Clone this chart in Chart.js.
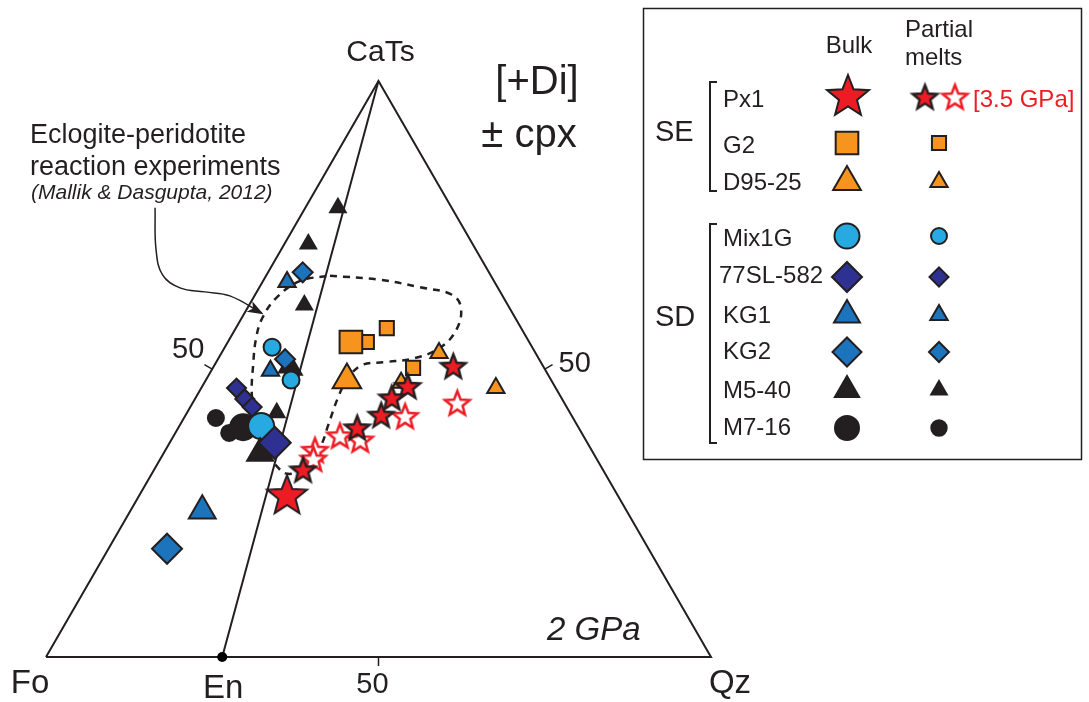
<!DOCTYPE html>
<html>
<head>
<meta charset="utf-8">
<script src="https://cdn.jsdelivr.net/npm/chart.js@4.4.1/dist/chart.umd.min.js"></script>
<style>
  html, body { margin: 0; padding: 0; background: #fff; }
  #wrap { width: 1089px; height: 702px; }
</style>
</head>
<body>
<div id="wrap"><canvas id="tern" width="1089" height="702"></canvas></div>
<script>
// compositions are [CaTs, Qz] in %, Fo is whatever is left
const vertexNames = ['Fo', 'Qz', 'CaTs']
const enName = 'En'
const enQz = 26.5
const tickValue = 50

const frame = [[0, 0], [0, 100], [100, 0], [0, 0]]
const enJoin = [[0, enQz], [100, 0]]

// field of the eclogite-peridotite reaction melts
const fieldOutline = [[66.2, 9.6], [65.5, 17.5], [64.2, 24.1], [62.9, 29.6], [60.6, 32.1], [56.8, 33.3],
  [53.7, 32.4], [51.9, 29.5], [51.2, 25.4], [50.7, 22.2], [48.4, 21.2], [45.0, 21.4], [40.3, 22.3],
  [36.5, 23.0], [33.0, 22.5], [31.8, 20.5], [33.3, 17.9], [35.9, 15.0], [40.3, 11.4], [45.5, 8.2],
  [50.7, 5.8], [55.4, 3.9], [58.9, 3.1], [62.5, 3.5], [65.3, 5.6], [66.2, 9.6]]
const arrowPath = [[78.0, -22.6], [70.7, -18.8], [66.3, -15.6], [64.1, -11.9], [63.4, -7.8], [62.7, -3.7], [59.7, 2.6]]

const px1Bulk = [[28.1, 22.2]]
const px1Melts = [[50.5, 36.0], [47.0, 30.9], [45.0, 29.5], [42.0, 29.4], [39.8, 26.9], [32.5, 22.4]]
const px1Melts35 = [[44.1, 39.8], [41.8, 33.1], [38.4, 25.0], [37.7, 28.4], [35.9, 22.5], [34.4, 23.0]]
const g2Bulk = [[54.7, 18.5]]
const g2Melts = [[54.7, 20.9], [57.1, 22.7], [50.2, 30.1]]
const d9525Bulk = [[48.1, 21.2]]
const d9525Melts = [[52.8, 32.7], [46.7, 44.3], [47.6, 29.6]]
const mix1gBulk = [[40.1, 12.3]]
const mix1gMelts = [[53.8, 7.1], [48.1, 12.8]]
const sl582Bulk = [[37.2, 15.8]]
const sl582Melts = [[46.7, 5.3], [44.8, 7.5], [43.4, 9.3]]
const kg1Bulk = [[25.4, 10.8]]
const kg1Melts = [[65.1, 3.7], [49.7, 8.9]]
const kg2Bulk = [[18.8, 8.8]]
const kg2Melts = [[66.8, 5.2], [51.7, 10.1]]
const m540Bulk = [[35.4, 14.5]]
const m540Melts = [[78.0, 4.9], [71.7, 3.6], [61.1, 8.3], [50.2, 11.1], [49.8, 12.4], [42.4, 13.5]]
const m716Bulk = [[39.9, 9.7]]
const m716Melts = [[41.5, 4.8], [38.9, 8.1]]

const groupNames = ['SE', 'SD']
const sampleNames = ['Px1', 'G2', 'D95-25', 'Mix1G', '77SL-582', 'KG1', 'KG2', 'M5-40', 'M7-16']

const ink = '#231f20'
const red = '#ed1c24'
const orange = '#f7941d'
const cyan = '#27aae1'
const navy = '#2e3192'
const blue = '#1c75bc'
const FONT = '"Liberation Sans", Arial, Helvetica, sans-serif'

const H = Math.sqrt(3) / 2
const toXY = ([c, q]) => ({ x: q + c / 2, y: c * H })

function starImage(R, fill, stroke, lw) {
  const s = Math.ceil(2 * R + lw + 4)
  const cv = document.createElement('canvas')
  cv.width = s
  cv.height = s
  const g = cv.getContext('2d')
  g.beginPath()
  for (let i = 0; i < 10; i++) {
    const r = i % 2 ? R * 0.43 : R
    const a = -Math.PI / 2 + i * Math.PI / 5
    g.lineTo(s / 2 + r * Math.cos(a), s / 2 + 1 + r * Math.sin(a))
  }
  g.closePath()
  g.fillStyle = fill
  g.fill()
  g.lineWidth = lw
  g.strokeStyle = stroke
  g.stroke()
  return cv
}

const bigStar = starImage(21, red, ink, 2)
const smallStar = starImage(13, red, ink, 2.4)
const hollowStar = starImage(13, '#fff', red, 2.5)
const legendBigStar = starImage(22, red, ink, 2)

// marker look for every sample, bulk radius first, melt radius second
const samples = [
  { name: 'Px1', shape: bigStar, meltShape: smallStar, color: red, bulk: px1Bulk, melts: px1Melts, rb: 20, rm: 12 },
  { name: 'G2', shape: 'rect', color: orange, bulk: g2Bulk, melts: g2Melts, rb: 16, rm: 10 },
  { name: 'D95-25', shape: 'triangle', color: orange, bulk: d9525Bulk, melts: d9525Melts, rb: 16.5, rm: 10 },
  { name: 'Mix1G', shape: 'circle', color: cyan, bulk: mix1gBulk, melts: mix1gMelts, rb: 13, rm: 8.5 },
  { name: '77SL-582', shape: 'rectRot', color: navy, bulk: sl582Bulk, melts: sl582Melts, rb: 16, rm: 9.5 },
  { name: 'KG1', shape: 'triangle', color: blue, bulk: kg1Bulk, melts: kg1Melts, rb: 15.5, rm: 10 },
  { name: 'KG2', shape: 'rectRot', color: blue, bulk: kg2Bulk, melts: kg2Melts, rb: 15, rm: 10 },
  { name: 'M5-40', shape: 'triangle', color: ink, bulk: m540Bulk, melts: m540Melts, rb: 15, rm: 9 },
  { name: 'M7-16', shape: 'circle', color: ink, bulk: m716Bulk, melts: m716Melts, rb: 13, rm: 8 }
]

function markerSet(data, shape, color, r, order) {
  return {
    data: data.map(toXY),
    showLine: false,
    pointStyle: shape,
    pointRadius: r,
    pointBackgroundColor: color,
    pointBorderColor: ink,
    pointBorderWidth: 2,
    order: order
  }
}

function lineSet(data, opts) {
  return Object.assign({
    data: data.map(toXY),
    showLine: true,
    pointRadius: 0,
    borderColor: ink,
    borderWidth: 2,
    fill: false,
    tension: 0,
    order: 20
  }, opts)
}

const datasets = [
  lineSet(frame, { borderJoinStyle: 'miter' }),
  lineSet(enJoin, {}),
  lineSet(fieldOutline, { borderWidth: 2.5, borderDash: [7, 6], tension: 0.4, order: 19 }),
  lineSet(arrowPath, { borderWidth: 1.5, tension: 0.4, order: 19 }),
  { data: [toXY([0, enQz])], showLine: false, pointStyle: 'circle', pointRadius: 5,
    pointBackgroundColor: '#000', pointBorderWidth: 0, order: 18 },
  markerSet(px1Melts35, hollowStar, '#fff', 13, 6)
]
samples.forEach((s, i) => {
  datasets.push(markerSet(s.melts, s.meltShape || s.shape, s.color, s.rm, 5))
})
// bulk markers sit above the melts; later in this list means further down
const bulkOrder = ['77SL-582', 'M5-40', 'Mix1G', 'M7-16', 'Px1', 'G2', 'D95-25', 'KG1', 'KG2']
samples.forEach(s => {
  datasets.push(markerSet(s.bulk, s.shape, s.color, s.rb, 1 + bulkOrder.indexOf(s.name) * 0.1))
})

function text(ctx, str, x, y, size, align, style, color) {
  ctx.font = (style || '') + ' ' + size + 'px ' + FONT
  ctx.textAlign = align || 'left'
  ctx.textBaseline = 'alphabetic'
  ctx.fillStyle = color || ink
  ctx.fillText(str, x, y)
}

const decorations = {
  id: 'decorations',
  afterDatasetsDraw(chart) {
    const ctx = chart.ctx
    const sx = chart.scales.x, sy = chart.scales.y
    const P = t => { const p = toXY(t); return [sx.getPixelForValue(p.x), sy.getPixelForValue(p.y)] }
    ctx.save()

    // arrow head at the end of the pointer line
    const a = P(arrowPath[arrowPath.length - 1]), b = P(arrowPath[arrowPath.length - 2])
    const ang = Math.atan2(a[1] - b[1], a[0] - b[0])
    ctx.translate(a[0], a[1])
    ctx.rotate(ang)
    ctx.beginPath()
    ctx.moveTo(2, 0)
    ctx.lineTo(-14, -6)
    ctx.lineTo(-10, 0)
    ctx.lineTo(-14, 6)
    ctx.closePath()
    ctx.fillStyle = ink
    ctx.fill()
    ctx.setTransform(1, 0, 0, 1, 0, 0)

    // 50 ticks on the three edges
    ctx.strokeStyle = ink
    ctx.lineWidth = 1.5
    const ticks = [
      { at: [tickValue, 0], d: [-0.87, -0.5], lab: [-24, -11] },
      { at: [0, tickValue], d: [0, 1], lab: [-6, 36] },
      { at: [tickValue, 100 - tickValue], d: [0.87, -0.5], lab: [30, 3] }
    ]
    ticks.forEach(t => {
      const p = P(t.at)
      ctx.beginPath()
      ctx.moveTo(p[0], p[1])
      ctx.lineTo(p[0] + t.d[0] * 9, p[1] + t.d[1] * 9)
      ctx.stroke()
      text(ctx, String(tickValue), p[0] + t.lab[0], p[1] + t.lab[1], 29, 'center')
    })

    // vertex names
    const fo = P([0, 0]), qz = P([0, 100]), ca = P([100, 0]), en = P([0, enQz])
    text(ctx, vertexNames[0], fo[0] - 16, fo[1] + 36, 33, 'center')
    text(ctx, vertexNames[1], qz[0] + 19, qz[1] + 36, 33, 'center')
    text(ctx, vertexNames[2], ca[0] + 2, ca[1] - 20, 30, 'center')
    text(ctx, enName, en[0] + 1, en[1] + 41, 33, 'center')

    text(ctx, '[+Di]', 537, 94, 40, 'center')
    text(ctx, '\u00b1 cpx', 529, 147, 40, 'center')
    text(ctx, '2 GPa', 547, 640, 33, 'left', 'italic')

    text(ctx, 'Eclogite-peridotite', 30, 143, 27)
    text(ctx, 'reaction experiments', 30, 175, 27)
    text(ctx, '(Mallik & Dasgupta, 2012)', 31, 199, 21, 'left', 'italic')

    drawLegend(ctx)
    ctx.restore()
  }
}

function legendMarker(ctx, shape, color, r, x, y) {
  ctx.fillStyle = color
  ctx.strokeStyle = ink
  ctx.lineWidth = 2
  Chart.helpers.drawPoint(ctx, { pointStyle: shape, radius: r, rotation: 0, borderWidth: 2 }, x, y)
}

function drawLegend(ctx) {
  ctx.strokeStyle = ink
  ctx.lineWidth = 1.5
  ctx.strokeRect(643.5, 8.5, 438, 451)

  text(ctx, 'Bulk', 849, 53, 24, 'center')
  text(ctx, 'Partial', 905, 37, 24)
  text(ctx, 'melts', 905, 65, 24)

  const rowY = [96, 143, 182, 236, 277, 315, 352, 390, 428]
  const labelY = [107, 153, 190, 246, 283, 323, 359, 398, 435]
  const bulkR = [0, 16, 16, 12.5, 15, 15, 14.5, 14, 12]
  const meltR = [0, 10, 10, 8, 9.5, 10, 10, 9, 7.7]
  samples.forEach((s, i) => {
    text(ctx, sampleNames[i], s.name === '77SL-582' ? 719 : 723, labelY[i], 24)
    if (s.name === 'Px1') {
      Chart.helpers.drawPoint(ctx, { pointStyle: legendBigStar, radius: 20, rotation: 0 }, 848, rowY[i])
      Chart.helpers.drawPoint(ctx, { pointStyle: smallStar, radius: 12, rotation: 0 }, 925, rowY[i] + 1)
      Chart.helpers.drawPoint(ctx, { pointStyle: hollowStar, radius: 12, rotation: 0 }, 955, rowY[i] + 1)
      text(ctx, '[3.5 GPa]', 973, labelY[i], 24, 'left', '', red)
    } else {
      legendMarker(ctx, s.shape, s.color, bulkR[i], 847, rowY[i])
      legendMarker(ctx, s.shape, s.color, meltR[i], 939, rowY[i])
    }
  })

  text(ctx, groupNames[0], 655, 141, 29)
  text(ctx, groupNames[1], 655, 326, 29)

  ctx.strokeStyle = ink
  ctx.lineWidth = 2
  ;[[82, 191], [224, 443]].forEach(([t, b]) => {
    ctx.beginPath()
    ctx.moveTo(717, t)
    ctx.lineTo(710, t)
    ctx.lineTo(710, b)
    ctx.lineTo(717, b)
    ctx.stroke()
  })
}

new Chart(document.getElementById('tern'), {
  type: 'scatter',
  data: { datasets: datasets },
  options: {
    responsive: false,
    animation: false,
    events: [],
    layout: { padding: 0, autoPadding: false },
    plugins: { legend: { display: false }, tooltip: { enabled: false } },
    scales: {
      x: { type: 'linear', display: false, min: -6.917, max: 156.842 },
      y: { type: 'linear', display: false, min: -6.767, max: 98.797 }
    }
  },
  plugins: [decorations]
})
</script>
</body>
</html>
